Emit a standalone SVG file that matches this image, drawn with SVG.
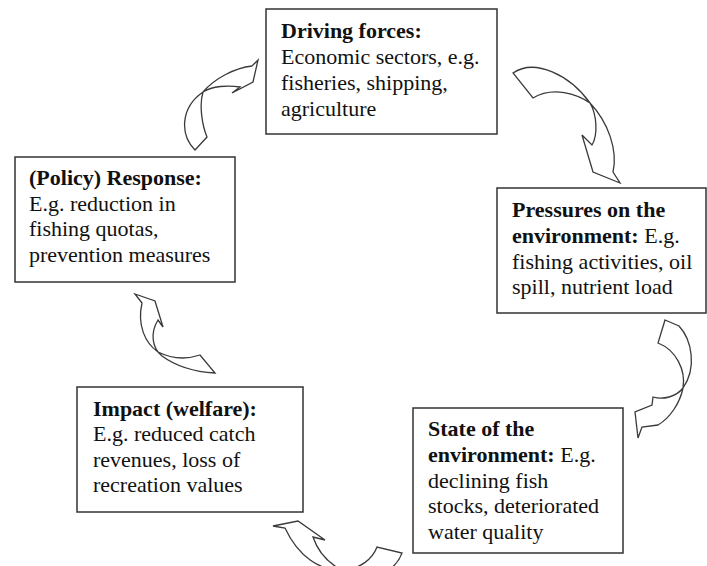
<svg xmlns="http://www.w3.org/2000/svg" width="707" height="566" viewBox="0 0 707 566">
<style>
.box{fill:#fff;stroke:#333;stroke-width:1.5}
.arr{fill:#fff;stroke:#3a3a3a;stroke-width:1.3;stroke-linejoin:miter}
text{font-family:"Liberation Serif","Times New Roman",serif;font-size:22px;fill:#111}
.b{font-weight:bold}
</style>
<rect width="707" height="566" fill="#fff"/>
<g id="connectors">
<path class="arr" d="M195,150 C180,135 180,108 203,92 C215,78 235,68 252,66 L258,60 L253,82 L232,93 L240,87 C228,85 212,86 203,92 C199,105 202,125 207,137 Z"/>
<path class="arr" d="M513,73 C535,58 570,75 590,103 C597,115 598,135 592,145 L582,135 L593,172 L620,183 L613,172 C618,150 608,122 590,103 C577,94 553,86 533,98 Z"/>
<path class="arr" d="M665,320 L679,326 C692,340 697,368 683,388 C676,397 663,400 653,397 L652,405 L635,412 L638,438 L642,427 L658,425 C670,418 680,403 683,388 C686,370 676,350 658,343 Z"/>
<path class="arr" d="M273,526 L298,521 L325,540 L313,537 C318,552 330,566 350,574 C375,580 395,572 402,553 L377,547 C372,560 360,568 345,570 C320,572 298,556 285,528 Z"/>
<path class="arr" d="M135,294 L155,301 L163,327 L158,320 C150,333 152,348 162,356 C177,367 197,372 215,373 L200,355 C185,360 170,358 158,352 C145,343 137,325 142,303 Z"/>
</g>
<g id="driving">
<rect class="box" x="266" y="9" width="231" height="125"/>
<text x="281" y="38" class="b">Driving forces:</text>
<text x="281" y="64">Economic sectors, e.g.</text>
<text x="281" y="90">fisheries, shipping,</text>
<text x="281" y="116">agriculture</text>
</g>
<g id="pressures">
<rect class="box" x="497" y="188" width="209" height="125"/>
<text x="512" y="217" class="b">Pressures on the</text>
<text x="512" y="243"><tspan class="b">environment:</tspan> E.g.</text>
<text x="512" y="268.5">fishing activities, oil</text>
<text x="512" y="294">spill, nutrient load</text>
</g>
<g id="state">
<rect class="box" x="413" y="408" width="210" height="145"/>
<text x="428" y="436" class="b">State of the</text>
<text x="428" y="462"><tspan class="b">environment:</tspan> E.g.</text>
<text x="428" y="487.5">declining fish</text>
<text x="428" y="513">stocks, deteriorated</text>
<text x="428" y="539">water quality</text>
</g>
<g id="impact">
<rect class="box" x="77" y="387" width="226" height="125"/>
<text x="93" y="415.5" class="b">Impact (welfare):</text>
<text x="93" y="441">E.g. reduced catch</text>
<text x="93" y="466.5">revenues, loss of</text>
<text x="93" y="492">recreation values</text>
</g>
<g id="response">
<rect class="box" x="15" y="157" width="220" height="125"/>
<text x="29" y="184.5" class="b">(Policy) Response:</text>
<text x="29" y="210.5">E.g. reduction in</text>
<text x="29" y="236">fishing quotas,</text>
<text x="29" y="262">prevention measures</text>
</g>
</svg>
